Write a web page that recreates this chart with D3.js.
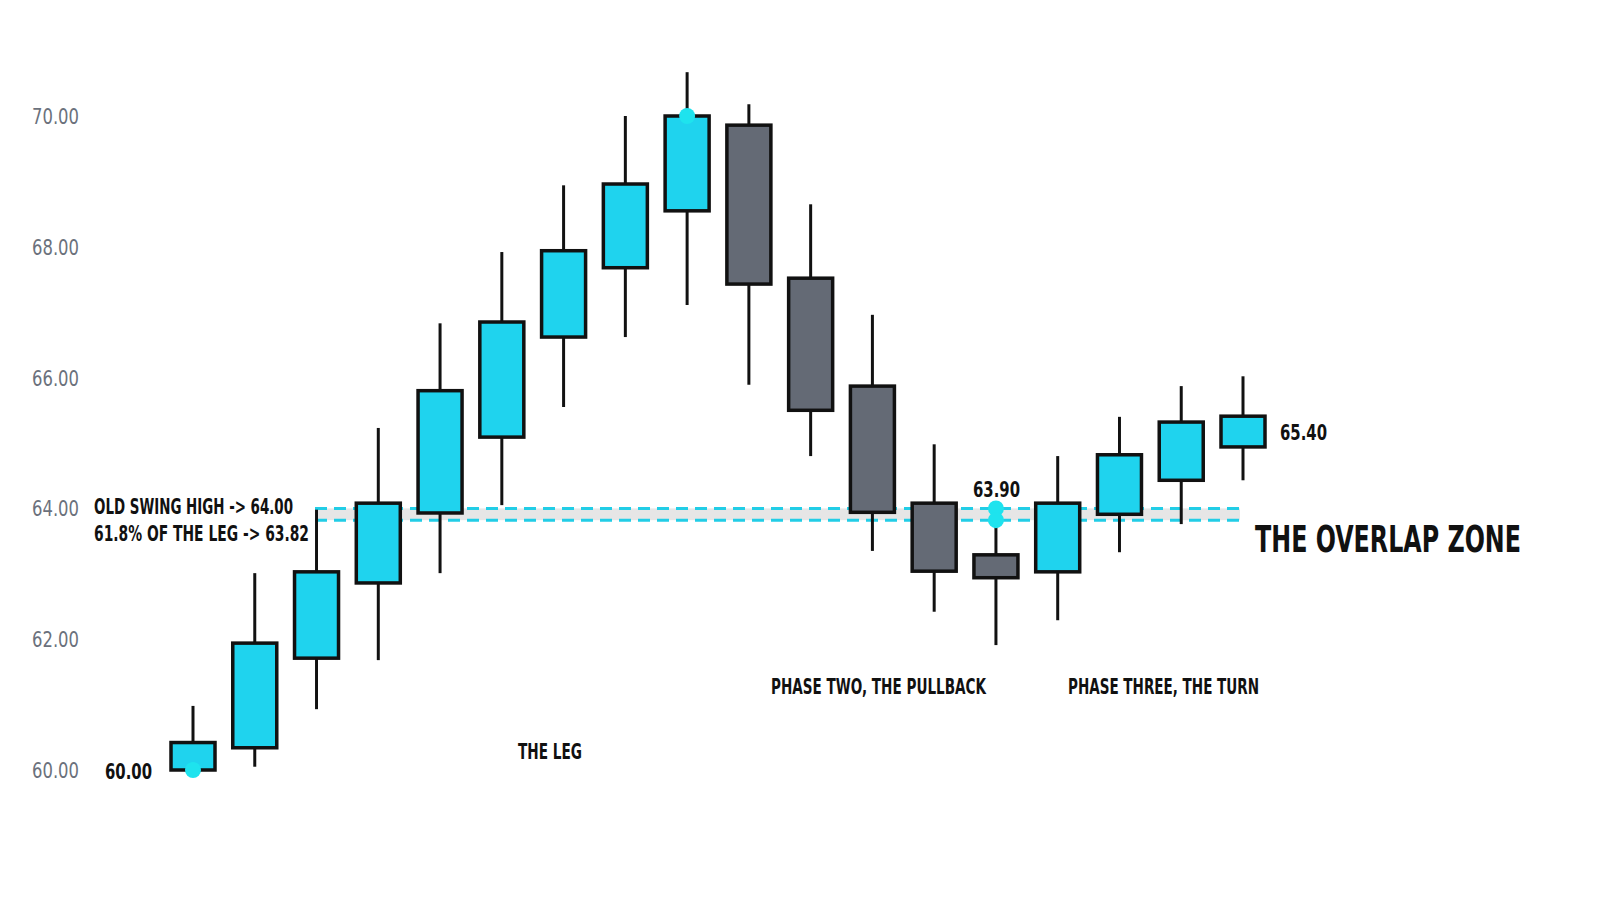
<!DOCTYPE html>
<html><head><meta charset="utf-8">
<script src="https://cdn.jsdelivr.net/npm/d3@7"></script>
<style>body{margin:0;background:#fff}text{font-family:"DejaVu Sans Condensed","Liberation Sans Narrow",sans-serif}</style>
</head><body><svg id="c" width="1600" height="914"></svg>
<script>
// candle data: open, close, high, low
var opens  = [60.00, 60.34, 61.71, 62.86, 63.93, 65.09, 66.62, 67.68, 68.55, 69.86, 67.52, 65.87, 64.08, 63.29, 63.03, 63.91, 64.43, 64.94];
var closes = [60.42, 61.94, 63.03, 64.08, 65.80, 66.85, 67.94, 68.96, 70.00, 67.43, 65.50, 63.94, 63.04, 62.94, 64.08, 64.82, 65.32, 65.41];
var highs  = [60.98, 63.01, 63.98, 65.23, 66.83, 67.92, 68.94, 70.00, 70.67, 70.18, 68.65, 66.96, 64.98, 63.90, 64.80, 65.40, 65.87, 66.02];
var lows   = [60.00, 60.05, 60.93, 61.68, 63.01, 64.05, 65.55, 66.62, 67.11, 65.89, 64.80, 63.35, 62.42, 61.91, 62.29, 63.33, 63.76, 64.43];
var yTicks = [60, 62, 64, 66, 68, 70];
var zoneTop = 64.00, zoneBottom = 63.82;
var dots = [[0, 60.00], [8, 70.00], [13, 64.00], [13, 63.82]];

var svg = d3.select('#c');
var y = d3.scaleLinear().domain([60, 70]).range([770, 116]);
var x = d3.scaleLinear().domain([0, 17]).range([193, 1243]);
var bw = 44;

svg.selectAll('.tick').data(yTicks).enter().append('text')
    .attr('x', 32).attr('y', function (d) { return y(d) + 8; })
    .attr('font-size', 22).attr('fill', '#6b717c')
    .attr('textLength', 47).attr('lengthAdjust', 'spacingAndGlyphs')
    .text(function (d) { return d.toFixed(2); });

// overlap zone
svg.append('rect').attr('x', 315).attr('width', 925)
    .attr('y', y(zoneTop)).attr('height', y(zoneBottom) - y(zoneTop))
    .attr('fill', '#e6e6e6');
[zoneTop, zoneBottom].forEach(function (v) {
    svg.append('line').attr('x1', 315).attr('x2', 1240)
        .attr('y1', y(v)).attr('y2', y(v))
        .attr('stroke', '#22cde6').attr('stroke-width', 3).attr('stroke-dasharray', '12,7');
});

var g = svg.selectAll('.candle').data(opens).enter().append('g');
g.append('line')
    .attr('x1', function (d, i) { return x(i); }).attr('x2', function (d, i) { return x(i); })
    .attr('y1', function (d, i) { return y(highs[i]); }).attr('y2', function (d, i) { return y(lows[i]); })
    .attr('stroke', '#111').attr('stroke-width', 3);
g.append('rect')
    .attr('x', function (d, i) { return x(i) - bw / 2; })
    .attr('y', function (d, i) { return y(Math.max(d, closes[i])); })
    .attr('width', bw)
    .attr('height', function (d, i) { return Math.abs(y(d) - y(closes[i])); })
    .attr('fill', function (d, i) { return closes[i] >= d ? '#1fd3ee' : '#646a75'; })
    .attr('stroke', '#111').attr('stroke-width', 3.5);

svg.selectAll('.dot').data(dots).enter().append('circle')
    .attr('cx', function (d) { return x(d[0]); }).attr('cy', function (d) { return y(d[1]); })
    .attr('r', 8).attr('fill', '#1ee3ee');

function label(tx, ty, s, w, size) {
    svg.append('text').attr('x', tx).attr('y', ty).attr('font-size', size || 21)
        .attr('font-weight', 'bold').attr('fill', '#111')
        .attr('textLength', w).attr('lengthAdjust', 'spacingAndGlyphs').text(s);
}
label(105, 779, '60.00', 47);
label(94, 514, 'OLD SWING HIGH -> 64.00', 199);
label(94, 541, '61.8% OF THE LEG -> 63.82', 215);
label(973, 497, '63.90', 47);
label(1280, 440, '65.40', 47);
label(518, 759, 'THE LEG', 64);
label(771, 694, 'PHASE TWO, THE PULLBACK', 215);
label(1068, 694, 'PHASE THREE, THE TURN', 191);
label(1255, 552, 'THE OVERLAP ZONE', 266, 38);
</script></body></html>
